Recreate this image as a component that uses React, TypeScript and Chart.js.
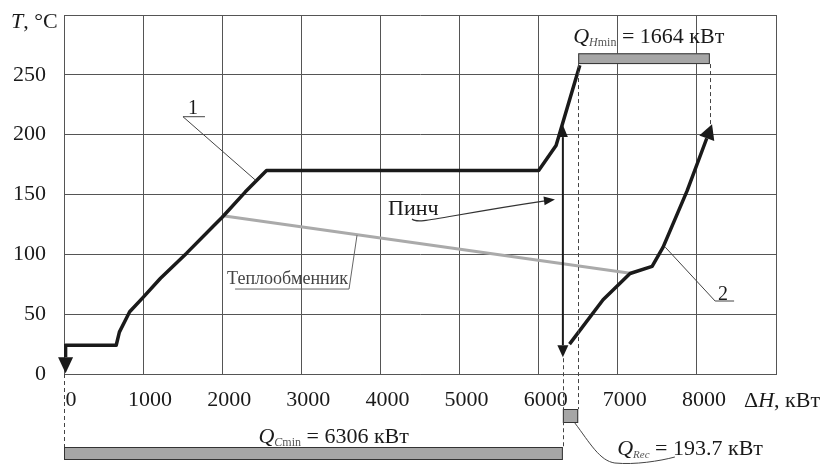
import { useEffect, useRef } from 'react';
import { Chart, registerables } from 'chart.js';

Chart.register(...registerables);

// ---- data ----
const xTickValues = [0, 1000, 2000, 3000, 4000, 5000, 6000, 7000, 8000, 9000];
const yTickValues = [0, 50, 100, 150, 200, 250, 300];

// hot composite curve (1), first point is the arrow base
const hotH = [20, 20, 660, 700, 830, 1000, 1220, 1550, 1880, 2000, 2290, 2560, 6000, 6220, 6520];
const hotT = [14, 24, 24, 35, 52, 64, 80, 101, 123, 131, 152, 170, 170, 191, 258];

// cold composite curve (2), last point is the arrow base
const coldH = [6390, 6814, 7155, 7434, 7573, 7876, 8125];
const coldT = [25, 62, 84, 90, 106, 153, 197];

// heat exchanger line
const exchH = [2030, 7180];
const exchT = [132, 84];

// pinch
const pinchH = 6306;
const pinchT = [14, 208];

// energy targets, kW
const QCmin = 6306;
const QRec = 193.7;
const QHmin = 1664;

// label anchor points (ΔH, T)
const label1Anchor = [1504, 215];
const label1Target = [2420, 162];
const label2Anchor = [8230, 61];
const label2Target = [7600, 106];
const exchLabelAnchor = [3603, 71];
const exchLabelTarget = [3704, 116];
const pinchLabelStart = [4400, 127];
const pinchLabelEnd = [6207, 146];

const FONT = '"Liberation Serif", "Times New Roman", serif';
const INK = '#1a1a1a';

type Part = { t: string; size: number; italic?: boolean; color?: string; dy?: number };

function drawRich(ctx: CanvasRenderingContext2D, parts: Part[], x: number, y: number) {
  let cx = x;
  ctx.textAlign = 'left';
  ctx.textBaseline = 'alphabetic';
  for (const p of parts) {
    ctx.font = `${p.italic ? 'italic ' : ''}${p.size}px ${FONT}`;
    ctx.fillStyle = p.color || INK;
    ctx.fillText(p.t, cx, y + (p.dy || 0));
    cx += ctx.measureText(p.t).width;
  }
}

function arrowHead(ctx: CanvasRenderingContext2D, bx: number, by: number, ux: number, uy: number, len: number, hw: number, color: string) {
  const m = Math.hypot(ux, uy) || 1;
  ux /= m; uy /= m;
  const tx = bx + ux * len, ty = by + uy * len;
  const nx = -uy, ny = ux;
  ctx.beginPath();
  ctx.moveTo(tx, ty);
  ctx.lineTo(bx + nx * hw, by + ny * hw);
  ctx.lineTo(bx - nx * hw, by - ny * hw);
  ctx.closePath();
  ctx.fillStyle = color;
  ctx.fill();
  return [tx, ty];
}

const annotations = {
  id: 'annotations',
  beforeDraw(chart: any) {
    const ctx = chart.ctx;
    ctx.save();
    ctx.fillStyle = '#fff';
    ctx.fillRect(0, 0, chart.width, chart.height);
    ctx.restore();
  },
  afterDraw(chart: any) {
    const ctx: CanvasRenderingContext2D = chart.ctx;
    const xs = chart.scales.x, ys = chart.scales.y;
    const X = (v: number) => xs.getPixelForValue(v);
    const Y = (v: number) => ys.getPixelForValue(v);
    const area = chart.chartArea;
    ctx.save();

    // hot curve arrow (pointing down at start)
    const hb = [X(hotH[0]), Y(hotT[0])];
    const hp = [X(hotH[1]), Y(hotT[1])];
    arrowHead(ctx, hb[0], hb[1], hb[0] - hp[0], hb[1] - hp[1], 16, 7.5, INK);

    // cold curve arrow (end)
    const n = coldH.length;
    const cb = [X(coldH[n - 1]), Y(coldT[n - 1])];
    const cp = [X(coldH[n - 2]), Y(coldT[n - 2])];
    const coldTip = arrowHead(ctx, cb[0], cb[1], cb[0] - cp[0], cb[1] - cp[1], 15, 8, INK);

    // pinch double arrow
    const px = X(pinchH);
    const pBot = Y(pinchT[0]);
    const pTop = Y(pinchT[1]);
    ctx.strokeStyle = INK;
    ctx.lineWidth = 2;
    ctx.beginPath();
    ctx.moveTo(px, pBot - 12);
    ctx.lineTo(px, pTop + 12);
    ctx.stroke();
    arrowHead(ctx, px, pBot - 12, 0, 1, 12, 5.5, INK);
    arrowHead(ctx, px, pTop + 12, 0, -1, 12, 5, INK);

    // bars
    const barTopC = area.bottom + 73;
    const recTop = area.bottom + 35;
    const hTop = Y(268), hBot = Y(259);
    ctx.fillStyle = '#a6a6a6';
    ctx.strokeStyle = '#333';
    ctx.lineWidth = 1;
    const rect = (x0: number, y0: number, x1: number, y1: number) => {
      ctx.fillRect(x0, y0, x1 - x0, y1 - y0);
      ctx.strokeRect(x0 + 0.5, y0 + 0.5, x1 - x0 - 1, y1 - y0 - 1);
    };
    rect(X(0), barTopC, X(QCmin), barTopC + 13);
    rect(X(QCmin), recTop, X(QCmin + QRec), recTop + 14);
    rect(X(QCmin + QRec), hTop, X(QCmin + QRec + QHmin), hBot);

    // dashed lines
    ctx.setLineDash([4, 3]);
    ctx.strokeStyle = '#444';
    ctx.lineWidth = 1;
    const vdash = (x: number, y0: number, y1: number) => {
      ctx.beginPath();
      ctx.moveTo(Math.round(x) + 0.5, y0);
      ctx.lineTo(Math.round(x) + 0.5, y1);
      ctx.stroke();
    };
    vdash(X(0), area.bottom, barTopC);
    vdash(px, pBot + 1, barTopC);
    vdash(X(QCmin + QRec), hBot, recTop);
    vdash(X(QCmin + QRec + QHmin), hBot, coldTip[1]);
    ctx.setLineDash([]);

    // leaders
    ctx.strokeStyle = '#444';
    ctx.lineWidth = 1;
    // label 1
    const a1 = [X(label1Anchor[0]), Y(label1Anchor[1])];
    const t1 = [X(label1Target[0]), Y(label1Target[1])];
    ctx.beginPath();
    ctx.moveTo(a1[0] + 22, a1[1]);
    ctx.lineTo(a1[0], a1[1]);
    ctx.lineTo(t1[0], t1[1]);
    ctx.stroke();
    ctx.font = `20px ${FONT}`;
    ctx.fillStyle = INK;
    ctx.textAlign = 'center';
    ctx.fillText('1', a1[0] + 10, a1[1] - 3);
    // label 2
    const a2 = [X(label2Anchor[0]), Y(label2Anchor[1])];
    const t2 = [X(label2Target[0]), Y(label2Target[1])];
    ctx.beginPath();
    ctx.moveTo(a2[0] + 19, a2[1]);
    ctx.lineTo(a2[0], a2[1]);
    ctx.lineTo(t2[0], t2[1]);
    ctx.stroke();
    ctx.fillText('2', a2[0] + 8, a2[1] - 1);
    // heat exchanger label
    const ae = [X(exchLabelAnchor[0]), Y(exchLabelAnchor[1])];
    const te = [X(exchLabelTarget[0]), Y(exchLabelTarget[1])];
    ctx.strokeStyle = '#666';
    ctx.beginPath();
    ctx.moveTo(ae[0] - 114, ae[1]);
    ctx.lineTo(ae[0], ae[1]);
    ctx.lineTo(te[0], te[1]);
    ctx.stroke();
    ctx.font = `18px ${FONT}`;
    ctx.fillStyle = '#444';
    ctx.textAlign = 'right';
    ctx.fillText('Теплообменник', ae[0] - 1, ae[1] - 5);

    // pinch label with curved arrow
    const ps = [X(pinchLabelStart[0]), Y(pinchLabelStart[1])];
    const pe = [X(pinchLabelEnd[0]), Y(pinchLabelEnd[1])];
    ctx.font = `22px ${FONT}`;
    ctx.fillStyle = INK;
    ctx.textAlign = 'left';
    ctx.fillText('Пинч', ps[0] - 24, ps[1] - 7);
    ctx.strokeStyle = '#333';
    ctx.lineWidth = 1.2;
    ctx.beginPath();
    ctx.moveTo(ps[0], ps[1] - 3);
    ctx.bezierCurveTo(ps[0] + 6, ps[1] + 3, ps[0] + 30, ps[1] - 6, pe[0] - 10, pe[1] + 1.5);
    ctx.stroke();
    arrowHead(ctx, pe[0] - 11, pe[1] + 1.6, 1, -0.12, 11, 4.5, INK);

    // QRec leader
    const rl = X(QCmin) + 12, rb = recTop + 14;
    ctx.strokeStyle = '#444';
    ctx.lineWidth = 1;
    ctx.beginPath();
    ctx.moveTo(rl, rb);
    ctx.bezierCurveTo(rl + 15, rb + 20, rl + 25, rb + 38, rl + 40, rb + 40);
    ctx.bezierCurveTo(rl + 60, rb + 42, rl + 85, rb + 38, rl + 100, rb + 34);
    ctx.stroke();

    // texts
    drawRich(ctx, [
      { t: 'Q', size: 22, italic: true },
      { t: 'H', size: 12, italic: true, color: '#555', dy: 3 },
      { t: 'min', size: 12, color: '#555', dy: 3 },
      { t: ` = ${QHmin} кВт`, size: 22 },
    ], X(QCmin + QRec) - 5, hTop - 10);

    drawRich(ctx, [
      { t: 'Q', size: 22, italic: true },
      { t: 'C', size: 12, italic: true, color: '#555', dy: 3 },
      { t: 'min', size: 12, color: '#555', dy: 3 },
      { t: ` = ${QCmin} кВт`, size: 22 },
    ], X(QCmin / 2) - 55, barTopC - 4);

    drawRich(ctx, [
      { t: 'Q', size: 22, italic: true },
      { t: 'Rec', size: 11, italic: true, color: '#555', dy: 3 },
      { t: ` = ${QRec} кВт`, size: 22 },
    ], X(QCmin + QRec) + 39, recTop + 46);

    drawRich(ctx, [
      { t: 'T', size: 22, italic: true },
      { t: ', °C', size: 22 },
    ], 11, area.top + 13);

    drawRich(ctx, [
      { t: 'Δ', size: 22 },
      { t: 'H', size: 22, italic: true },
      { t: ', кВт', size: 22 },
    ], area.right - 32, area.bottom + 33);

    ctx.restore();
  },
};

export default function App() {
  const ref = useRef<HTMLCanvasElement | null>(null);
  useEffect(() => {
    if (!ref.current) return;
    const tickFont = { family: FONT, size: 22 };
    const chart = new Chart(ref.current, {
      type: 'scatter',
      data: {
        datasets: [
          {
            data: hotH.map((x, i) => ({ x, y: hotT[i] })),
            showLine: true, borderColor: INK, borderWidth: 3.5, pointRadius: 0,
            borderJoinStyle: 'round',
          },
          {
            data: coldH.map((x, i) => ({ x, y: coldT[i] })),
            showLine: true, borderColor: INK, borderWidth: 3.5, pointRadius: 0,
            borderJoinStyle: 'round',
          },
          {
            data: exchH.map((x, i) => ({ x, y: exchT[i] })),
            showLine: true, borderColor: '#aaaaaa', borderWidth: 3, pointRadius: 0,
          },
        ],
      },
      options: {
        responsive: false,
        animation: false,
        events: [],
        layout: { padding: { left: 0, right: 46, top: 15, bottom: 0 } },
        plugins: { legend: { display: false }, tooltip: { enabled: false } },
        scales: {
          x: {
            type: 'linear', min: 0, max: 9000,
            afterBuildTicks: (s: any) => { s.ticks = xTickValues.map((v) => ({ value: v })); },
            afterFit: (s: any) => { s.height = 90; s.paddingLeft = 0; s.paddingRight = 0; },
            ticks: {
              font: tickFont, color: INK, padding: 13, labelOffset: 7,
              maxRotation: 0, autoSkip: false,
              callback: (v: any) => (v === 9000 ? '' : String(v)),
            },
            grid: { color: '#555', lineWidth: 1, drawTicks: false },
            border: { color: '#555' },
          },
          y: {
            type: 'linear', min: 0, max: 300,
            afterBuildTicks: (s: any) => { s.ticks = yTickValues.map((v) => ({ value: v })); },
            afterFit: (s: any) => { s.width = 64; s.paddingTop = 0; s.paddingBottom = 0; },
            ticks: {
              font: tickFont, color: INK, padding: 18,
              callback: (v: any) => (v === 300 ? '' : String(v)),
            },
            grid: { color: '#555', lineWidth: 1, drawTicks: false },
            border: { color: '#555' },
          },
        },
      },
      plugins: [annotations],
    } as any);
    return () => chart.destroy();
  }, []);
  return (
    <div style={{ position: 'absolute', left: 0, top: 0, width: 822, height: 464 }}>
      <canvas ref={ref} width={822} height={464} style={{ display: 'block' }} />
    </div>
  );
}
